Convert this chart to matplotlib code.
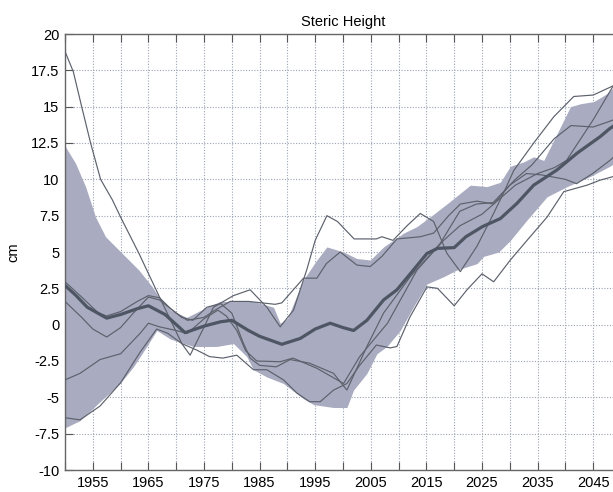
import numpy as np
import matplotlib
matplotlib.use('Agg')
import matplotlib.pyplot as plt

plt.rcParams['font.family'] = ['Liberation Sans', 'DejaVu Sans']

# ensemble mean (thick line)
mean_yr = [1950, 1952, 1954, 1957.5, 1960, 1963, 1965, 1968, 1971.6, 1975, 1978, 1980, 1983, 1985, 1989,
           1992.3, 1995, 1997.7, 2000, 2001.9, 2004.3, 2007.3, 2009.7, 2012.1, 2015.1, 2017, 2020, 2022.1,
           2025.1, 2028.3, 2031.3, 2034.3, 2038.5, 2042.1, 2046.3, 2048, 2050]
mean_val = [2.7, 2.0, 1.2, 0.45, 0.7, 1.1, 1.3, 0.7, -0.55, -0.1, 0.2, 0.3, -0.4, -0.8, -1.35,
            -0.95, -0.3, 0.1, -0.2, -0.4, 0.3, 1.7, 2.4, 3.5, 4.9, 5.25, 5.3, 6.05,
            6.75, 7.3, 8.35, 9.6, 10.65, 11.8, 12.95, 13.5, 14.0]

# individual members (thin lines)
m1_yr = [1950, 1951.5, 1953, 1954.6, 1956.4, 1958.5, 1960, 1963.3, 1967, 1969, 1971, 1972.5, 1974.9, 1976.7,
         1980.3, 1983.3, 1986.3, 1988.7, 1991.1, 1993.5, 1995, 1997.1, 1999, 2002, 2006, 2007, 2009, 2011.5,
         2013.9, 2016.3, 2018.7, 2021.1, 2024.1, 2026.5, 2028.8, 2030.7, 2034.3, 2037.9, 2041.5, 2045,
         2048.4, 2050]
m1_val = [18.8, 17.4, 15.0, 12.5, 10.0, 8.6, 7.4, 4.9, 1.9, 0.3, -1.3, -2.1, -0.25, 1.2,
          2.0, 2.4, 1.2, -0.15, 1.0, 3.8, 5.8, 7.5, 7.1, 5.9, 5.9, 6.05, 5.8, 6.8,
          7.65, 7.1, 4.9, 3.65, 5.4, 7.2, 9.0, 10.6, 12.5, 14.3, 15.7, 15.8,
          16.4, 16.8]

m2_yr = [1950, 1953, 1956, 1957.5, 1960, 1963, 1965, 1967, 1969, 1971, 1973, 1975.5, 1978, 1980, 1982,
         1983.3, 1985, 1988, 1990.5, 1994, 1998.3, 2000.7, 2004.3, 2007.3, 2012.1, 2017.5, 2021, 2024,
         2027, 2031, 2034, 2038, 2041, 2045, 2048, 2050]
m2_val = [2.95, 1.9, 0.8, 0.6, 0.9, 1.6, 2.0, 1.85, 1.1, 0.5, 0.3, 1.2, 1.45, 0.8, -1.2,
          -2.3, -2.8, -2.9, -2.4, -2.65, -3.35, -4.5, -1.5, 0.8, 3.3, 5.6, 7.8, 8.3,
          8.4, 10.0, 11.0, 12.8, 13.7, 13.6, 14.0, 14.3]

m3_yr = [1950, 1953, 1955, 1957.5, 1960, 1962.3, 1965, 1967, 1970, 1972, 1975, 1977, 1979.7, 1983,
         1987.8, 1989, 1992.9, 1995.3, 1997, 1999.5, 2002.5, 2004.9, 2007, 2009.7, 2013.9, 2016.3, 2019,
         2021.1, 2024.1, 2027.1, 2030, 2033, 2035.8, 2040, 2042, 2044.9, 2048, 2050]
m3_val = [1.6, 0.5, -0.3, -0.85, -0.2, 0.8, 1.9, 1.7, 0.8, 0.3, 0.5, 1.0, 1.6, 1.6,
          1.4, 1.5, 3.2, 3.2, 4.2, 5.0, 4.1, 4.0, 4.7, 5.9, 6.05, 6.3, 7.5,
          8.3, 8.5, 8.3, 9.6, 10.4, 10.3, 10.0, 9.7, 10.4, 11.3, 12.0]

m4_yr = [1950, 1952.7, 1956.3, 1960, 1963.5, 1965, 1967, 1970, 1972, 1975, 1977.5, 1979, 1980.9, 1982.5,
         1984.5, 1988.7, 1991, 1995.3, 2000.1, 2003, 2008, 2013.3, 2018.1, 2021, 2025, 2028, 2031, 2035,
         2038, 2040.2, 2045, 2048.4, 2050]
m4_val = [-3.8, -3.35, -2.4, -2.0, -0.6, 0.1, -0.15, -0.4, -0.6, 0.4, 1.0, 0.6, -0.4, -1.8,
          -2.5, -2.55, -2.3, -3.0, -4.05, -2.2, 0.1, 3.75, 5.8, 6.8, 7.6, 8.6, 9.6, 10.4,
          10.8, 11.3, 14.1, 16.3, 17.0]

m5_yr = [1950, 1952.7, 1956.3, 1960, 1963.5, 1966.5, 1968.5, 1971, 1973.7, 1976, 1978.4, 1980.9, 1983.9,
         1986.3, 1989.3, 1991.7, 1994, 1995.9, 1998.3, 2000.7, 2003, 2006, 2008.5, 2009.7, 2012, 2015.1,
         2017, 2020, 2022.3, 2025, 2027.1, 2030.1, 2033.1, 2036.7, 2039.7, 2043.9, 2046.3, 2048.7, 2050]
m5_val = [-6.4, -6.55, -5.6, -4.0, -1.9, -0.3, -0.6, -1.3, -1.75, -2.2, -2.3, -2.1, -3.1,
          -3.1, -3.8, -4.7, -5.3, -5.3, -4.5, -4.05, -2.8, -1.4, -1.6, -1.5, 0.5, 2.6,
          2.5, 1.3, 2.4, 3.5, 2.95, 4.45, 5.8, 7.4, 9.15, 9.6, 9.95, 10.2, 10.3]

# spread band
band_up_yr = [1950, 1951.9, 1953.7, 1955.5, 1957.3, 1960.3, 1963.3, 1965.7, 1966.9, 1969, 1971.9, 1975.5,
              1977.9, 1983.9, 1987.5, 1988.7, 1990, 1991.1, 1992.9, 1995.3, 1997.1, 2000.1, 2002.5, 2004.9,
              2007.3, 2010.9, 2013.3, 2016.3, 2019, 2022.9, 2025.9, 2028.3, 2030.1, 2032.5, 2034.3, 2036.1,
              2039.1, 2040.9, 2042.7, 2045.1, 2047.5, 2050]
band_up = [12.3, 11.1, 9.5, 7.4, 6.05, 4.9, 3.75, 2.6, 1.9, 1.0, 0.5, 1.2,
           1.6, 1.6, 1.2, 0.1, 0.4, 1.45, 3.1, 4.45, 5.35, 5.0, 4.55, 4.45,
           5.35, 6.3, 6.75, 7.6, 8.4, 9.6, 9.5, 9.8, 10.9, 11.2, 11.55, 11.3,
           13.6, 15.0, 15.2, 15.35, 15.9, 16.8]
band_lo_yr = [1950, 1952.7, 1956.3, 1960, 1962.3, 1964.7, 1966.5, 1969, 1973.1, 1977.3, 1980.3, 1982.7,
              1983.9, 1986.3, 1989.3, 1992.9, 1994.7, 1998.3, 2000.7, 2001.9, 2004.3, 2006.1, 2007.9, 2010.3,
              2012.7, 2015.1, 2018.1, 2020.4, 2024.1, 2025.3, 2028, 2030.1, 2033.1, 2036.7, 2040.3, 2044.5,
              2048, 2050]
band_lo = [-7.1, -6.6, -5.3, -4.0, -2.9, -1.5, -0.4, -1.0, -1.5, -1.5, -1.3, -2.2,
           -3.1, -3.6, -4.05, -5.1, -5.5, -5.7, -5.7, -4.5, -3.35, -2.0, -1.5, -0.4,
           1.25, 2.8, 3.3, 3.75, 4.2, 4.7, 5.0, 5.8, 7.2, 8.8, 9.5, 10.2,
           10.9, 11.4]

xtick_years = list(range(1950, 2051, 5))
xtick_labels = [str(y) if y % 10 == 5 else '' for y in xtick_years]
ytick_vals = [-10, -7.5, -5, -2.5, 0, 2.5, 5, 7.5, 10, 12.5, 15, 17.5, 20]
ytick_labels = ['-10', '-7.5', '-5', '-2.5', '0', '2.5', '5', '7.5', '10', '12.5', '15', '17.5', '20']

fig = plt.figure(figsize=(6.13, 4.92), dpi=100)
ax = fig.add_axes([65/613, 22/492, 556/613, 436/492])

# band on a common year grid made from both edges' own points
yrs = np.array(sorted(set(band_up_yr) | set(band_lo_yr)))
ax.fill_between(yrs, np.interp(yrs, band_lo_yr, band_lo), np.interp(yrs, band_up_yr, band_up),
                color='#a9abc0', lw=0, zorder=1)

line_col = '#5c616c'
for yy, vv in [(m1_yr, m1_val), (m2_yr, m2_val), (m3_yr, m3_val), (m4_yr, m4_val), (m5_yr, m5_val)]:
    ax.plot(yy, vv, color=line_col, lw=0.85, zorder=3)
ax.plot(mean_yr, mean_val, color='#4e5563', lw=2.3, zorder=4)

ax.set_xlim(1950, 2050)
ax.set_ylim(-10, 20)
ax.set_xticks(xtick_years)
ax.set_xticklabels(xtick_labels)
ax.set_yticks(ytick_vals)
ax.set_yticklabels(ytick_labels)
ax.set_axisbelow(True)
ax.grid(True, linestyle=(0, (1, 1.5)), color='#9aa3b3', lw=0.8)
ax.tick_params(direction='in', length=6, width=0.8, color='#555555', labelsize=10.5,
               top=True, right=True, pad=4)
for s in ax.spines.values():
    s.set_color('#666666')
    s.set_linewidth(1.0)

ax.set_title('Steric Height', fontsize=10.5, pad=6)
ax.set_ylabel('cm', fontsize=10.5, labelpad=8)

fig.savefig('out.png', dpi=100)
